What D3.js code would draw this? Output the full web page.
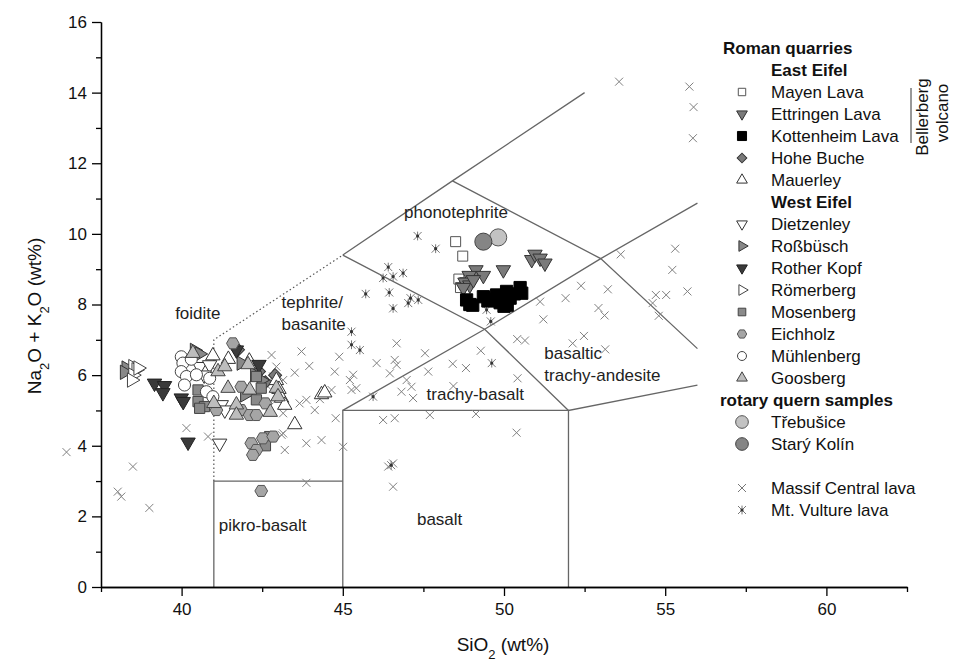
<!DOCTYPE html>
<html><head><meta charset="utf-8">
<script src="https://cdn.jsdelivr.net/npm/d3@7/dist/d3.min.js"></script>
<style>
body{margin:0;background:#fff;}
svg{display:block;font-family:"Liberation Sans",Arial,sans-serif;}
</style></head>
<body>
<svg id="chart" width="954" height="662"></svg>
<script>
// ---------- DATA (SiO2 wt%, Na2O+K2O wt%) ----------
const xTicks = [40, 45, 50, 55, 60];
const yTicks = [0, 2, 4, 6, 8, 10, 12, 14, 16];

const mayenLava = [[48.5,9.78],[48.72,9.37],[48.6,8.72],[48.78,8.62],[48.65,8.48]];
const ettringenLava = [[49.13,8.98],[49.36,8.82],[48.92,8.82],[48.79,8.63],[48.94,8.55],[48.74,8.48],[49.05,8.7],[49.98,8.98],[50.86,9.27],[50.96,9.42],[51.12,9.31],[51.27,9.17]];
const kottenheimLava = [[48.84,8.13],[48.94,8.0],[49.03,7.98],[49.36,8.22],[49.5,8.1],[49.62,8.15],[49.77,8.27],[49.88,8.05],[50.0,7.95],[50.08,8.37],[50.19,8.18],[50.32,8.3],[50.5,8.48],[50.55,8.32],[50.1,7.98]];
const hoheBuche = [[41.75,6.72],[42.4,6.1],[42.6,5.8],[42.9,6.0]];
const mauerley = [[40.97,6.55],[41.45,6.45],[42.1,6.4],[42.94,5.85],[43.02,5.6],[43.1,5.35],[43.2,5.15],[43.51,4.6],[44.34,5.45],[44.44,5.5]];
const dietzenley = [[40.56,6.24],[40.87,6.29],[41.18,4.07],[41.23,5.16],[41.34,5.01],[40.7,6.0]];
const rossbusch = [[38.28,6.2],[38.23,6.08],[40.4,6.7],[40.55,6.6],[41.96,5.44],[42.27,6.01],[42.47,5.86],[41.85,6.34]];
const rotherKopf = [[39.16,5.77],[39.47,5.7],[39.42,5.5],[39.99,5.35],[40.05,5.25],[40.2,4.1],[41.7,6.71],[42.4,6.3]];
const romerberg = [[38.49,6.24],[38.59,6.15],[38.49,6.0],[38.45,5.86],[38.65,6.2]];
const mosenberg = [[40.51,5.58],[40.51,5.25],[40.71,5.11],[40.56,5.06],[42.32,5.96],[42.47,5.63],[42.32,5.3],[42.73,4.26],[42.6,4.0]];
const eichholz = [[41.59,6.9],[41.08,5.01],[41.85,5.01],[42.11,4.87],[42.32,4.87],[42.16,4.07],[42.52,4.21],[42.84,4.26],[42.32,3.88],[42.21,3.74],[42.47,2.72],[41.85,5.67],[42.6,5.2]];
const muhlenberg = [[39.99,6.52],[40.04,6.34],[39.99,6.1],[40.15,5.96],[40.46,6.01],[40.09,5.72],[40.77,5.53],[40.97,5.39],[40.87,5.91],[40.3,6.45]];
const goosberg = [[40.35,6.62],[41.13,6.1],[41.34,6.24],[41.44,5.63],[41.7,5.16],[41.7,4.87],[42.06,6.3],[42.11,5.58],[42.94,5.63],[42.99,5.39],[42.75,4.95],[41.0,5.2]];
const trebusice = [[49.82,9.9]];
const staryKolin = [[49.36,9.78]];
const massifCentral = [[36.43,3.82],[38.02,2.70],[38.13,2.56],[38.49,3.41],[39.0,2.24],[40.15,4.5],[40.82,4.26],
 [42.79,6.57],[42.94,6.24],[42.63,5.72],[43.04,5.39],[42.73,5.11],[43.15,4.92],[43.15,4.35],[43.2,3.88],[43.1,4.31],[43.87,4.07],[44.34,4.16],[45.01,3.97],[43.87,2.95],
 [43.72,6.67],[43.96,6.26],[44.89,6.52],[44.75,6.1],[45.32,6.01],[45.42,5.63],[44.78,4.78],[46.25,4.73],[46.61,4.78],[46.41,3.41],[46.56,3.5],[46.56,2.84],[44.29,5.32],[44.13,5.01],[43.66,5.2],[44.65,5.58],[42.84,5.96],
 [43.51,6.07],[44.39,5.49],[43.87,5.3],[43.15,5.86],[45.22,5.86],[45.27,5.58],
 [46.67,6.9],[46.61,6.43],[46.67,6.29],[46.46,6.05],[46.05,6.34],
 [46.98,5.86],[47.13,5.67],[46.82,5.53],[47.18,5.35],[47.55,6.62],[47.65,6.1],
 [48.41,6.32],[48.82,6.2],[48.43,5.69],[49.28,6.69],[50.42,5.91],[47.7,4.87],[49.13,4.9],[50.39,4.37],
 [50.41,7.02],[50.65,6.98],[51.22,7.58],[51.12,8.08],[51.91,8.18],[52.39,8.53],[52.48,7.11],[52.13,6.9],[53.14,6.73],[52.93,7.9],[53.12,7.69],[53.22,8.43],[53.62,9.42],[54.61,8.04],[54.8,7.68],[54.71,8.27],[55.03,8.27],[55.22,8.98],[55.31,9.58],[55.69,8.37],
 [53.57,14.31],[55.75,14.17],[55.88,13.59],[55.86,12.71]];
const mtVulture = [[47.32,9.94],[47.88,9.58],[46.41,9.06],[46.56,8.79],[46.87,8.89],[46.25,8.75],[45.71,8.3],[46.44,8.34],[47.1,8.18],[47.03,8.04],[47.34,8.13],[46.56,7.89],[45.27,7.23],[45.27,6.86],[45.53,6.71],[49.62,6.34],[49.46,7.85],[49.59,7.52],[45.94,5.39],[46.5,3.45]];

// TAS field boundaries
const solidBoundaries = [
  [[41,0],[41,3],[45,3]],
  [[45,0],[45,5],[52,5],[52,0]],
  [[45,5],[49.4,7.3],[53,9.3],[56,10.87]],
  [[45,9.4],[49.4,7.3],[52,5],[56,5.72]],
  [[45,9.4],[48.4,11.5],[52.5,14]],
  [[48.4,11.5],[53,9.3],[56,6.75]]
];
const dottedBoundary = [[41,3],[41,7],[45,9.4]];
const fieldLabels = [
  {lines:["foidite"], at:[39.8,7.6]},
  {lines:["tephrite/","basanite"], at:[43.1,7.9]},
  {lines:["phonotephrite"], at:[46.9,10.45]},
  {lines:["trachy-basalt"], at:[47.6,5.30]},
  {lines:["basaltic","trachy-andesite"], at:[51.25,6.45]},
  {lines:["pikro-basalt"], at:[41.15,1.6]},
  {lines:["basalt"], at:[47.3,1.76]}
];

// ---------- DRAW ----------
const svg = d3.select("#chart");
const x = d3.scaleLinear().domain([37.5, 62.5]).range([101, 907]);
const y = d3.scaleLinear().domain([0, 16]).range([587, 22]);

// boundaries
const line = d3.line().x(d=>x(d[0])).y(d=>y(d[1]));
svg.append("g").selectAll("path").data(solidBoundaries).join("path")
  .attr("d", line).attr("fill","none").attr("stroke","#666").attr("stroke-width",1.3);
svg.append("path").attr("d", line(dottedBoundary)).attr("fill","none")
  .attr("stroke","#555").attr("stroke-width",1.2).attr("stroke-dasharray","1.5,2.5");

// field labels
const fl = svg.append("g").attr("font-size",17).attr("fill","#222");
fieldLabels.forEach(f=>{
  f.lines.forEach((t,i)=>{
    fl.append("text").attr("x",x(f.at[0])).attr("y",y(f.at[1])+i*22).text(t);
  });
});

// axes
const ax = svg.append("g").attr("transform",`translate(0,${y(0)})`)
  .call(d3.axisBottom(x).tickValues(d3.range(37.5,63,5)).tickSize(5).tickSizeOuter(0).tickFormat(""));
const ax2 = svg.append("g").attr("transform",`translate(0,${y(0)})`)
  .call(d3.axisBottom(x).tickValues(xTicks).tickSize(9).tickSizeOuter(0).tickPadding(7));
const ay = svg.append("g").attr("transform",`translate(${x(37.5)},0)`)
  .call(d3.axisLeft(y).tickValues(d3.range(1,16,2)).tickSize(5).tickSizeOuter(0).tickFormat(""));
const ay2 = svg.append("g").attr("transform",`translate(${x(37.5)},0)`)
  .call(d3.axisLeft(y).tickValues(yTicks).tickSize(9).tickSizeOuter(0).tickPadding(5));
[ax,ax2,ay,ay2].forEach(g=>{
  g.selectAll("path,line").attr("stroke","#000").attr("stroke-width",1.3);
  g.selectAll("text").attr("font-size",17).attr("font-family","Liberation Sans, Arial, sans-serif").attr("fill","#111");
});

// axis titles
const xt = svg.append("text").attr("x",503).attr("y",651).attr("text-anchor","middle").attr("font-size",19).attr("fill","#111");
xt.append("tspan").text("SiO");
xt.append("tspan").attr("baseline-shift","sub").attr("font-size",13).text("2");
xt.append("tspan").text(" (wt%)");
const yt = svg.append("text").attr("transform","translate(41,316) rotate(-90)").attr("text-anchor","middle").attr("font-size",19).attr("fill","#111");
yt.append("tspan").text("Na");
yt.append("tspan").attr("baseline-shift","sub").attr("font-size",13).text("2");
yt.append("tspan").text("O + K");
yt.append("tspan").attr("baseline-shift","sub").attr("font-size",13).text("2");
yt.append("tspan").text("O (wt%)");

// symbols
const hexagon = {draw(ctx,size){const r=Math.sqrt(size/(1.5*Math.sqrt(3)));for(let i=0;i<6;i++){const a=Math.PI/3*i;const px=r*Math.cos(a),py=r*Math.sin(a);i?ctx.lineTo(px,py):ctx.moveTo(px,py);}ctx.closePath();}};
function xMark(g, cx, cy, s, color){
  g.append("path").attr("d",`M${cx-s},${cy-s}L${cx+s},${cy+s}M${cx-s},${cy+s}L${cx+s},${cy-s}`)
   .attr("stroke",color).attr("stroke-width",1).attr("fill","none");
}
function astMark(g, cx, cy, s){
  g.append("path").attr("d",`M${cx-s},${cy-s}L${cx+s},${cy+s}M${cx-s},${cy+s}L${cx+s},${cy-s}M${cx},${cy-s*1.1}L${cx},${cy+s*1.1}`)
   .attr("stroke","#777").attr("stroke-width",1).attr("fill","none");
  g.append("circle").attr("cx",cx).attr("cy",cy).attr("r",1.6).attr("fill","#333");
}

const series = [
  {name:"Mayen Lava", data:mayenLava, type:d3.symbolSquare, rot:0, size:100, fill:"#fff", stroke:"#555"},
  {name:"Ettringen Lava", data:ettringenLava, type:d3.symbolTriangle, rot:180, size:90, fill:"#7a7a7a", stroke:"#333"},
  {name:"Kottenheim Lava", data:kottenheimLava, type:d3.symbolSquare, rot:0, size:150, fill:"#000", stroke:"#000"},
  {name:"Hohe Buche", data:hoheBuche, type:d3.symbolSquare, rot:45, size:85, fill:"#7a7a7a", stroke:"#333"},
  {name:"Mauerley", data:mauerley, type:d3.symbolTriangle, rot:0, size:90, fill:"#fff", stroke:"#333"},
  {name:"Dietzenley", data:dietzenley, type:d3.symbolTriangle, rot:180, size:90, fill:"#fff", stroke:"#333"},
  {name:"Roßbüsch", data:rossbusch, type:d3.symbolTriangle, rot:90, size:90, fill:"#888", stroke:"#333"},
  {name:"Rother Kopf", data:rotherKopf, type:d3.symbolTriangle, rot:180, size:90, fill:"#3a3a3a", stroke:"#222"},
  {name:"Römerberg", data:romerberg, type:d3.symbolTriangle, rot:90, size:90, fill:"#fff", stroke:"#444"},
  {name:"Mosenberg", data:mosenberg, type:d3.symbolSquare, rot:0, size:105, fill:"#8a8a8a", stroke:"#444"},
  {name:"Eichholz", data:eichholz, type:hexagon, rot:0, size:105, fill:"#a5a5a5", stroke:"#555"},
  {name:"Mühlenberg", data:muhlenberg, type:d3.symbolCircle, rot:0, size:115, fill:"#fff", stroke:"#444"},
  {name:"Goosberg", data:goosberg, type:d3.symbolTriangle, rot:0, size:90, fill:"#bdbdbd", stroke:"#444"},
  {name:"Třebušice", data:trebusice, type:d3.symbolCircle, rot:0, size:230, fill:"#c2c2c2", stroke:"#555"},
  {name:"Starý Kolín", data:staryKolin, type:d3.symbolCircle, rot:0, size:230, fill:"#858585", stroke:"#444"}
];

// background crosses first
const cg = svg.append("g");
massifCentral.forEach(d=>xMark(cg, x(d[0]), y(d[1]), 4, "#808080"));
mtVulture.forEach(d=>astMark(cg, x(d[0]), y(d[1]), 4));

const pg = svg.append("g");
series.forEach(s=>{
  const sym = d3.symbol().type(s.type).size(s.size)();
  pg.append("g").selectAll("path").data(s.data).join("path")
    .attr("d", sym)
    .attr("transform", d=>`translate(${x(d[0])},${y(d[1])}) rotate(${s.rot})`)
    .attr("fill", s.fill).attr("stroke", s.stroke).attr("stroke-width",1);
});

// legend
const lg = svg.append("g").attr("font-size",17).attr("fill","#111");
const symX = 742, txtX = 771, rowH = 22, row0 = 76;
lg.append("text").attr("x",723).attr("y",54).attr("font-weight","bold").text("Roman quarries");
const legendRows = [
  {head:"East Eifel"},
  {s:0},{s:1},{s:2},{s:3},{s:4},
  {head:"West Eifel"},
  {s:5},{s:6},{s:7},{s:8},{s:9},{s:10},{s:11},{s:12},
  {group:"rotary quern samples"},
  {s:13},{s:14}
];
legendRows.forEach((r,i)=>{
  const by = row0 + i*rowH;
  if (r.head) lg.append("text").attr("x",txtX).attr("y",by).attr("font-weight","bold").text(r.head);
  else if (r.group) lg.append("text").attr("x",720).attr("y",by).attr("font-weight","bold").text(r.group);
  else {
    const s = series[r.s];
    const sz = s.size*0.55;
    lg.append("path").attr("d", d3.symbol().type(s.type).size(sz)())
      .attr("transform",`translate(${symX},${by-6}) rotate(${s.rot})`)
      .attr("fill",s.fill).attr("stroke",s.stroke).attr("stroke-width",1);
    lg.append("text").attr("x",txtX).attr("y",by).text(s.name);
  }
});
const mcY = row0 + 19*rowH, mvY = row0 + 20*rowH;
xMark(lg, symX, mcY-6, 4, "#777");
lg.append("text").attr("x",txtX).attr("y",mcY).text("Massif Central lava");
astMark(lg, symX, mvY-6, 4);
lg.append("text").attr("x",txtX).attr("y",mvY).text("Mt. Vulture lava");

// Bellerberg volcano bracket
svg.append("line").attr("x1",911).attr("x2",911).attr("y1",88).attr("y2",143).attr("stroke","#333").attr("stroke-width",1);
svg.append("text").attr("transform","translate(928,117) rotate(-90)").attr("text-anchor","middle").attr("font-size",17).attr("fill","#111").text("Bellerberg");
svg.append("text").attr("transform","translate(948,113) rotate(-90)").attr("text-anchor","middle").attr("font-size",17).attr("fill","#111").text("volcano");
</script>
</body></html>
